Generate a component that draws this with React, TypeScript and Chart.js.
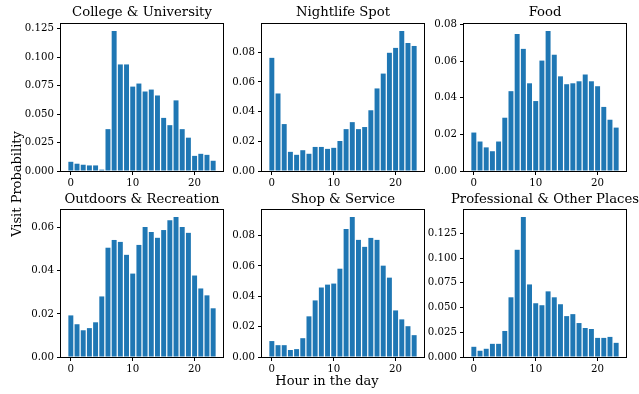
import React, { useEffect, useRef } from "react";
import { Chart, registerables } from "chart.js";

Chart.register(...registerables);

const hours = [0, 1, 2, 3, 4, 5, 6, 7, 8, 9, 10, 11, 12, 13, 14, 15, 16, 17, 18, 19, 20, 21, 22, 23];
const xTickLabels = ["0", "10", "20"];

const collegeValues = [0.0081, 0.0064, 0.0055, 0.0049, 0.0049, 0.0012, 0.0368, 0.123, 0.0937, 0.0937, 0.0742, 0.0769, 0.0699, 0.0716, 0.0664, 0.0467, 0.0403, 0.0621, 0.0368, 0.0293, 0.0133, 0.0151, 0.0142, 0.009];
const nightlifeValues = [0.0762, 0.0522, 0.0316, 0.0129, 0.0109, 0.014, 0.0116, 0.0162, 0.0162, 0.0149, 0.0156, 0.0202, 0.0282, 0.0329, 0.0282, 0.0296, 0.0409, 0.0556, 0.0656, 0.0796, 0.0829, 0.0942, 0.0862, 0.0842];
const foodValues = [0.021, 0.0161, 0.0129, 0.0108, 0.0161, 0.0291, 0.0436, 0.0748, 0.0667, 0.0479, 0.0382, 0.0603, 0.0764, 0.0635, 0.0517, 0.0474, 0.0479, 0.049, 0.0527, 0.049, 0.0463, 0.035, 0.028, 0.0237];
const outdoorsValues = [0.0193, 0.0152, 0.0124, 0.0134, 0.0161, 0.0281, 0.0507, 0.0543, 0.0534, 0.0474, 0.0387, 0.052, 0.0603, 0.058, 0.0553, 0.0589, 0.0635, 0.0649, 0.0603, 0.0576, 0.0378, 0.0318, 0.0286, 0.0226];
const shopValues = [0.0105, 0.0078, 0.0078, 0.0046, 0.0052, 0.0124, 0.0268, 0.0373, 0.0458, 0.0477, 0.0484, 0.0582, 0.0844, 0.0922, 0.0772, 0.0726, 0.0785, 0.0772, 0.0602, 0.0523, 0.0307, 0.0248, 0.0203, 0.0144];
const professionalValues = [0.0103, 0.0063, 0.0083, 0.0133, 0.0133, 0.0263, 0.0603, 0.1083, 0.1413, 0.0733, 0.0543, 0.0523, 0.0663, 0.0603, 0.0533, 0.0413, 0.0433, 0.0343, 0.0293, 0.0283, 0.0193, 0.0193, 0.0203, 0.0143];

const yTicks3 = ["0.000", "0.025", "0.050", "0.075", "0.100", "0.125"];
const yTicks08 = ["0.00", "0.02", "0.04", "0.06", "0.08"];
const yTicks06 = ["0.00", "0.02", "0.04", "0.06"];

const titles = ["College & University", "Nightlife Spot", "Food", "Outdoors & Recreation", "Shop & Service", "Professional & Other Places"];
const panelValues = [collegeValues, nightlifeValues, foodValues, outdoorsValues, shopValues, professionalValues];
const panelYTicks = [yTicks3, yTicks08, yTicks08, yTicks06, yTicks08, yTicks3];

const yLabel = "Visit Probability";
const xLabel = "Hour in the day";

const FONT = "'DejaVu Serif', serif";
const BAR_COLOR = "#1f77b4";

// layout (pixels)
const AX_LEFTS = [61, 262, 464];
const AX_TOPS = [23, 209];
const AX_W = 162;
const AX_H = 148;
const YW = 42;
const XH = 20;
const TP = 8;
const RP = 6;

const framePlugin = {
  id: "frameBox",
  afterDatasetsDraw(chart: any) {
    const { ctx, chartArea } = chart;
    ctx.save();
    ctx.strokeStyle = "#000";
    ctx.lineWidth = 1;
    ctx.strokeRect(
      Math.round(chartArea.left) - 0.5,
      Math.round(chartArea.top) - 0.5,
      Math.round(chartArea.right - chartArea.left) + 1,
      Math.round(chartArea.bottom - chartArea.top) + 1
    );
    ctx.restore();
  },
};

function Panel({ idx }: { idx: number }) {
  const ref = useRef<HTMLCanvasElement | null>(null);
  const col = idx % 3;
  const row = Math.floor(idx / 3);
  const w = YW + AX_W + RP;
  const h = TP + AX_H + XH;

  useEffect(() => {
    if (!ref.current) return;
    const values = panelValues[idx];
    const yLabels = panelYTicks[idx];
    const xSpan = hours[hours.length - 1] - hours[0] + 0.8;
    const xMin = hours[0] - 0.4 - 0.05 * xSpan;
    const xMax = hours[hours.length - 1] + 0.4 + 0.05 * xSpan;
    const yMax = Math.max(...values) * 1.05;

    const chart = new Chart(ref.current, {
      type: "bar",
      data: {
        datasets: [
          {
            data: hours.map((hh, i) => ({ x: hh, y: values[i] })),
            backgroundColor: BAR_COLOR,
            borderWidth: 0,
            barPercentage: 0.8,
            categoryPercentage: 1.0,
          },
        ],
      },
      options: {
        animation: false,
        responsive: false,
        devicePixelRatio: 1,
        layout: { padding: { left: 0, right: RP, top: TP, bottom: 0 }, autoPadding: false },
        plugins: { legend: { display: false }, tooltip: { enabled: false }, title: { display: false } },
        scales: {
          x: {
            type: "linear",
            min: xMin,
            max: xMax,
            offset: false,
            grid: { display: true, offset: false, drawOnChartArea: false, drawTicks: true, tickLength: 4, color: "#000", tickColor: "#000" },
            border: { display: false },
            afterBuildTicks: (axis: any) => {
              axis.ticks = xTickLabels.map((l) => ({ value: parseFloat(l) }));
            },
            afterFit: (axis: any) => {
              axis.height = XH;
            },
            ticks: {
              autoSkip: false,
              maxRotation: 0,
              minRotation: 0,
              padding: 2,
              color: "#000",
              font: { family: FONT, size: 10.2 },
              callback: (_v: any, i: number) => xTickLabels[i],
            },
          },
          y: {
            type: "linear",
            min: 0,
            max: yMax,
            grid: { display: true, drawOnChartArea: false, drawTicks: true, tickLength: 4, color: "#000", tickColor: "#000" },
            border: { display: false },
            afterBuildTicks: (axis: any) => {
              axis.ticks = yLabels.map((l) => ({ value: parseFloat(l) }));
            },
            afterFit: (axis: any) => {
              axis.width = YW;
            },
            ticks: {
              autoSkip: false,
              padding: 3,
              color: "#000",
              font: { family: FONT, size: 10.2 },
              callback: (_v: any, i: number) => yLabels[i],
            },
          },
        },
      } as any,
      plugins: [framePlugin],
    });
    return () => chart.destroy();
  }, [idx]);

  const axLeft = AX_LEFTS[col];
  const axTop = AX_TOPS[row];
  return (
    <>
      <canvas
        ref={ref}
        width={w}
        height={h}
        style={{ position: "absolute", left: axLeft - YW, top: axTop - TP, width: w, height: h }}
      />
      <div
        style={{
          position: "absolute",
          left: axLeft + AX_W / 2 - 150,
          width: 300,
          top: (row === 0 ? 11.5 : 198.5) - 9,
          height: 18,
          lineHeight: "18px",
          textAlign: "center",
          fontFamily: FONT,
          fontSize: 13.2,
          color: "#000",
          whiteSpace: "nowrap",
        }}
      >
        {titles[idx]}
      </div>
    </>
  );
}

export default function App() {
  return (
    <div
      style={{
        position: "fixed",
        left: 0,
        top: 0,
        width: 639,
        height: 394,
        background: "#fff",
        overflow: "hidden",
      }}
    >
      {[0, 1, 2, 3, 4, 5].map((i) => (
        <Panel key={i} idx={i} />
      ))}
      <div
        style={{
          position: "absolute",
          left: 17 - 100,
          top: 184 - 9,
          width: 200,
          height: 18,
          lineHeight: "18px",
          textAlign: "center",
          fontFamily: FONT,
          fontSize: 13,
          color: "#000",
          transform: "rotate(-90deg)",
          whiteSpace: "nowrap",
        }}
      >
        {yLabel}
      </div>
      <div
        style={{
          position: "absolute",
          left: 327 - 100,
          top: 380.5 - 9,
          width: 200,
          height: 18,
          lineHeight: "18px",
          textAlign: "center",
          fontFamily: FONT,
          fontSize: 13,
          color: "#000",
          whiteSpace: "nowrap",
        }}
      >
        {xLabel}
      </div>
    </div>
  );
}
